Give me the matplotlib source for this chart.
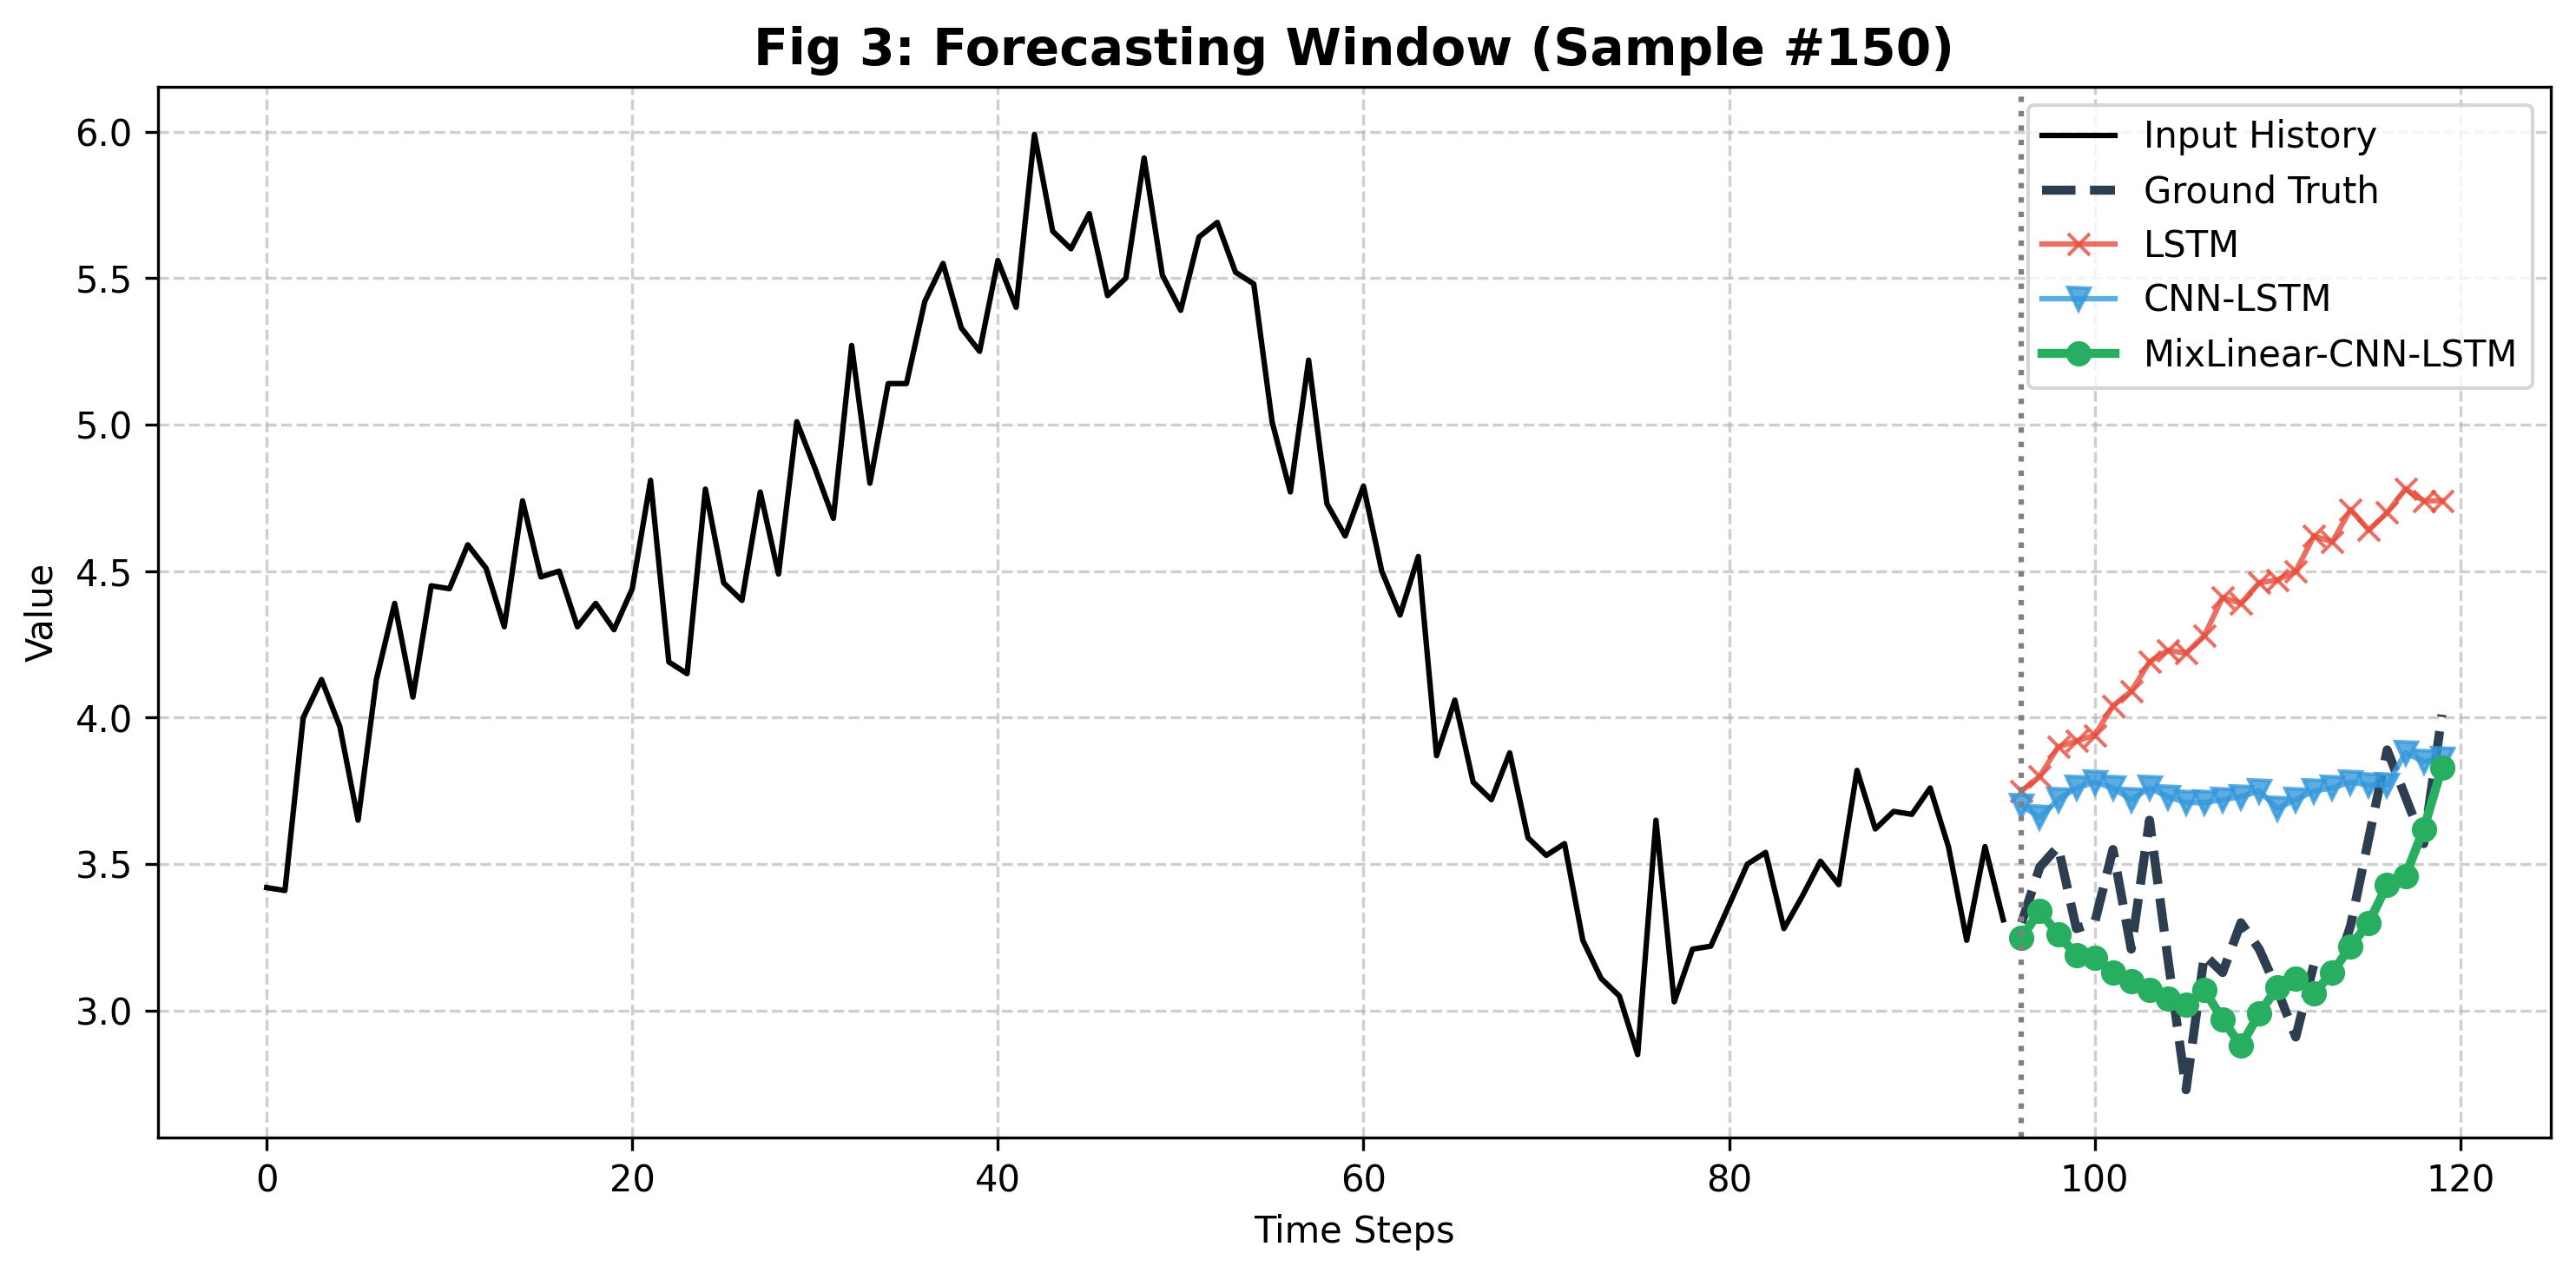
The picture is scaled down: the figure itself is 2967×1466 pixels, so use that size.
"""
Forecasting window plot for one test sample: input history, ground truth and
the predictions of the three models.
"""

import matplotlib
matplotlib.use("Agg")
import matplotlib.pyplot as plt
import numpy as np


SAMPLE_ID = 150
HISTORY_LEN = 96
HORIZON = 24

INPUT_HISTORY = [
    3.42, 3.41, 4.00, 4.13, 3.97, 3.65, 4.13, 4.39, 4.07, 4.45,
    4.44, 4.59, 4.51, 4.31, 4.74, 4.48, 4.50, 4.31, 4.39, 4.30,
    4.44, 4.81, 4.19, 4.15, 4.78, 4.46, 4.40, 4.77, 4.49, 5.01,
    4.85, 4.68, 5.27, 4.80, 5.14, 5.14, 5.42, 5.55, 5.33, 5.25,
    5.56, 5.40, 5.99, 5.66, 5.60, 5.72, 5.44, 5.50, 5.91, 5.51,
    5.39, 5.64, 5.69, 5.52, 5.48, 5.01, 4.77, 5.22, 4.73, 4.62,
    4.79, 4.50, 4.35, 4.55, 3.87, 4.06, 3.78, 3.72, 3.88, 3.59,
    3.53, 3.57, 3.24, 3.11, 3.05, 2.85, 3.65, 3.03, 3.21, 3.22,
    3.36, 3.50, 3.54, 3.28, 3.39, 3.51, 3.43, 3.82, 3.62, 3.68,
    3.67, 3.76, 3.56, 3.24, 3.56, 3.31,
]

GROUND_TRUTH = [
    3.30, 3.49, 3.56, 3.28, 3.30, 3.55, 3.21, 3.65, 3.18, 2.73,
    3.19, 3.13, 3.30, 3.21, 3.07, 2.91, 3.16, 3.10, 3.29, 3.59,
    3.89, 3.73, 3.57, 4.01,
]

PRED_LSTM = [
    3.75, 3.80, 3.90, 3.92, 3.94, 4.04, 4.09, 4.19, 4.23, 4.22,
    4.28, 4.41, 4.39, 4.46, 4.47, 4.50, 4.62, 4.60, 4.71, 4.64,
    4.70, 4.78, 4.74, 4.74,
]

PRED_CNN_LSTM = [
    3.70, 3.66, 3.72, 3.76, 3.78, 3.76, 3.72, 3.76, 3.73, 3.71,
    3.71, 3.72, 3.73, 3.75, 3.69, 3.72, 3.75, 3.76, 3.78, 3.77,
    3.77, 3.88, 3.85, 3.86,
]

PRED_MIXLINEAR = [
    3.25, 3.34, 3.26, 3.19, 3.18, 3.13, 3.10, 3.07, 3.04, 3.02,
    3.07, 2.97, 2.88, 2.99, 3.08, 3.11, 3.06, 3.13, 3.22, 3.30,
    3.43, 3.46, 3.62, 3.83,
]


def main():
    hist_x = np.arange(HISTORY_LEN)
    fut_x = np.arange(HISTORY_LEN, HISTORY_LEN + HORIZON)

    fig, ax = plt.subplots(figsize=(9.89, 4.887), dpi=300)
    fig.subplots_adjust(left=0.0613, right=0.9902, top=0.9318, bottom=0.1064)

    ax.plot(hist_x, INPUT_HISTORY, color="black", linewidth=1.5, label="Input History")
    ax.plot(fut_x, GROUND_TRUTH, color="#2c3e50", linestyle="--", linewidth=2.5, label="Ground Truth")
    ax.plot(fut_x, PRED_LSTM, color="#e74c3c", marker="x", linewidth=1.5, alpha=0.8, label="LSTM")
    ax.plot(fut_x, PRED_CNN_LSTM, color="#3498db", marker="v", linewidth=1.5, alpha=0.8, label="CNN-LSTM")
    ax.plot(fut_x, PRED_MIXLINEAR, color="#27ae60", marker="o", linewidth=2.5, label="MixLinear-CNN-LSTM")
    ax.axvline(HISTORY_LEN, color="gray", linestyle=":", linewidth=1.5)

    ax.set_title(f"Fig 3: Forecasting Window (Sample #{SAMPLE_ID})", fontsize=14, fontweight="bold")
    ax.set_xlabel("Time Steps")
    ax.set_ylabel("Value")
    ax.grid(True, linestyle="--", alpha=0.6)
    ax.legend(loc="upper right")

    fig.savefig("out.png", dpi=300)
    plt.close(fig)


if __name__ == "__main__":
    main()
